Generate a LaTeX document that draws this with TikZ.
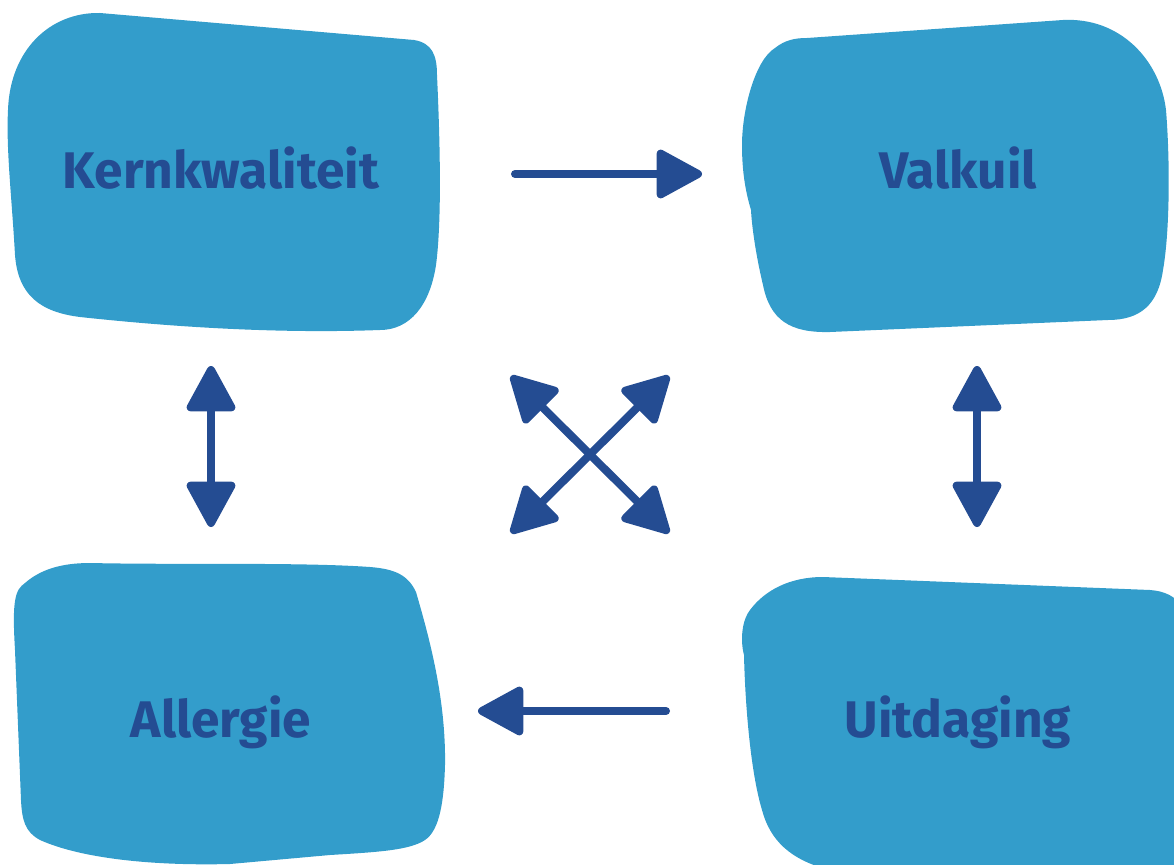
\documentclass[tikz,border=0pt]{standalone}
\usepackage{fontspec}
\setmainfont{Fira Sans}
\usetikzlibrary{arrows.meta}
\definecolor{blobblue}{HTML}{339DCB}
\definecolor{darkblue}{HTML}{244C92}
\tikzset{
  blob/.style={fill=blobblue, draw=none},
  label/.style={text=darkblue, font=\fontsize{51.5}{60}\selectfont\bfseries, inner sep=0pt, anchor=base},
  conn/.style={draw=darkblue, line width=8pt, line cap=round,
    -{Triangle[length=50pt,width=52pt,round]}},
  bconn/.style={draw=darkblue, line width=8pt, line cap=round,
    {Triangle[length=50pt,width=52pt,round]}-{Triangle[length=50pt,width=52pt,round]}},
}
\begin{document}
\begin{tikzpicture}[x=1pt,y=-1pt]
\useasboundingbox (0,0) rectangle (1174,864);
\clip (0,0) rectangle (1174,864);
% Kernkwaliteit blob
\path[blob] (100,13) -- (414,40)
  .. controls (432,43) and (437,55) .. (437,75)
  .. controls (440,140) and (442,220) .. (436,265)
  .. controls (430,305) and (410,330) .. (380,330)
  .. controls (300,333) and (200,330) .. (80,317)
  .. controls (40,312) and (18,295) .. (15,255)
  .. controls (12,200) and (6,150) .. (8,110)
  .. controls (10,50) and (50,12) .. (100,13) -- cycle;
% Valkuil blob
\path[blob] (807,38) -- (1063,20)
  .. controls (1120,17) and (1160,60) .. (1166,110)
  .. controls (1170,160) and (1170,230) .. (1163,270)
  .. controls (1158,305) and (1140,320) .. (1108,320)
  -- (830,332)
  .. controls (790,333) and (770,320) .. (763,285)
  .. controls (757,260) and (752,230) .. (751,210)
  .. controls (745,190) and (742,170) .. (742,145)
  .. controls (742,110) and (755,60) .. (775,48)
  .. controls (785,40) and (795,38) .. (807,38) -- cycle;
% Allergie blob
\path[blob] (90,563) .. controls (180,565) and (300,562) .. (370,567)
  .. controls (395,569) and (408,575) .. (416,592)
  .. controls (430,640) and (446,700) .. (445,765)
  .. controls (444,800) and (440,830) .. (425,840)
  .. controls (410,850) and (380,852) .. (330,855)
  -- (230,864)
  .. controls (150,866) and (80,858) .. (40,840)
  .. controls (25,832) and (22,820) .. (21,800)
  -- (15,650)
  .. controls (12,600) and (15,590) .. (25,583)
  .. controls (40,570) and (60,563) .. (90,563) -- cycle;
% Uitdaging blob
\path[blob] (823,577) -- (1150,590)
  .. controls (1165,591) and (1176,597) .. (1180,605)
  -- (1180,870) -- (830,870)
  .. controls (790,860) and (770,840) .. (762,810)
  .. controls (750,770) and (745,700) .. (744,655)
  .. controls (740,640) and (742,620) .. (750,610)
  .. controls (765,590) and (790,577) .. (823,577) -- cycle;
% labels
\node[label] (kern) at (221,188) {Kernkwaliteit};
\node[label] (valk) at (958,188) {Valkuil};
\node[label] (aller) at (221,737) {Allergie};
\node[label] (uitd) at (958,737) {Uitdaging};
% arrow end points
\coordinate (ra1) at (515,174); \coordinate (ra2) at (702,174);
\coordinate (la1) at (666,711); \coordinate (la2) at (478,711);
\coordinate (lv1) at (211,366); \coordinate (lv2) at (211,527);
\coordinate (rv1) at (977,366); \coordinate (rv2) at (977,527);
\coordinate (nw) at (511,376); \coordinate (se) at (669,533);
\coordinate (ne) at (669,376); \coordinate (sw) at (511,533);
\draw[conn] (ra1) -- (ra2);
\draw[conn] (la1) -- (la2);
\draw[bconn] (lv1) -- (lv2);
\draw[bconn] (rv1) -- (rv2);
\draw[bconn] (nw) -- (se);
\draw[bconn] (ne) -- (sw);
\end{tikzpicture}
\end{document}
